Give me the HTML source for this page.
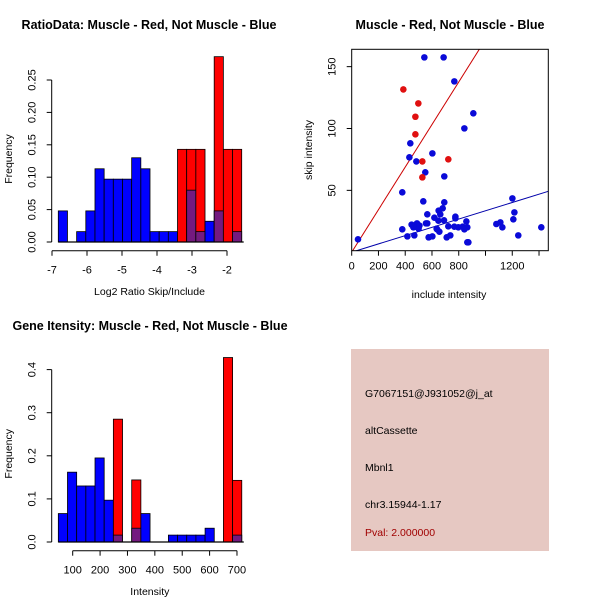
<!DOCTYPE html>
<html><head><meta charset="utf-8">
<style>
html,body{margin:0;padding:0;background:#fff;}
svg{display:block;font-family:"Liberation Sans",Arial,sans-serif;}
.t{font-weight:bold;font-size:12.5px;}
.lab{font-size:10.5px;}
.tk{font-size:11px;}
</style></head>
<body>
<svg id="root" width="600" height="600" viewBox="0 0 600 600" xmlns="http://www.w3.org/2000/svg">
<rect width="600" height="600" fill="#fff"/>
<g id="h1"></g>
<g id="h2"></g>
<g id="sc"></g>
<g>
<rect x="351" y="349" width="198" height="202" fill="#e6c8c2"/>
<text x="365" y="397" class="lab">G7067151@J931052@j_at</text>
<text x="365" y="434" class="lab">altCassette</text>
<text x="365" y="471" class="lab">Mbnl1</text>
<text x="365" y="508" class="lab">chr3.15944-1.17</text>
<text x="365" y="536" class="lab" fill="#a00000">Pval: 2.000000</text>
</g>
</svg>
<script>
// ---------- Histogram 1 data ----------
const h1Start = -6.82, h1Width = 0.262;
const h1Blue = [0.048,0,0.016,0.048,0.113,0.097,0.097,0.097,0.130,0.113,0.016,0.016,0.016,0,0.080,0.016,0.032,0.048,0,0.016];
const h1Red  = [0,0,0,0,0,0,0,0,0,0,0,0,0,0.143,0.143,0.143,0,0.286,0.143,0.143];
const h1XTicks = [-7,-6,-5,-4,-3,-2];
const h1YTicks = [0,0.05,0.10,0.15,0.20,0.25];
const h1YLabels = ["0.00","0.05","0.10","0.15","0.20","0.25"];
// ---------- Histogram 2 data ----------
const h2Start = 47.5, h2Width = 33.5;
const h2Blue = [0.066,0.162,0.130,0.130,0.195,0.097,0.016,0,0.032,0.066,0,0,0.016,0.016,0.016,0.016,0.032,0,0,0.016];
const h2Red  = [0,0,0,0,0,0,0.285,0,0.144,0,0,0,0,0,0,0,0,0,0.428,0.143];
const h2XTicks = [100,200,300,400,500,600,700];
const h2YTicks = [0,0.1,0.2,0.3,0.4];
const h2YLabels = ["0.0","0.1","0.2","0.3","0.4"];
// ---------- Scatter data ----------
const blueX = [543,687,767,909,842,438,603,431,483,550,692,378,535,692,1201,47,565,650,662,680,775,618,690,648,555,565,488,448,506,461,500,635,722,775,767,797,829,857,864,842,378,468,416,575,603,655,638,710,737,864,872,1081,1111,1126,1216,1208,1245,1417];
const blueY = [157.5,157.5,138.1,112.3,100.1,88.0,79.9,76.7,73.4,64.6,61.3,48.4,41.1,40.3,43.5,10.4,30.6,33.6,30.6,35.5,28.7,27.9,25.8,25.5,23.3,23.3,23.3,22.3,21.5,20.1,19.0,19.0,20.9,27.4,20.6,20.1,20.6,24.9,20.1,18.5,18.5,13.6,12.8,12.0,12.8,16.6,18.5,12.0,13.6,8.0,8.0,22.8,24.1,20.1,32.2,26.6,13.6,20.1];
const redX = [386,498,476,476,528,722,528];
const redY = [131.6,120.3,109.5,95.3,73.4,75.1,60.5];
const redSlope = 0.172, blueSlope = 0.0335;
const scXTicks = [0,200,400,600,800,1000,1200,1400];
const scXLabels = ["0","200","400","600","800","","1200",""];
const scYTicks = [50,100,150];

const NS="http://www.w3.org/2000/svg";
function mk(parent, tag, attrs){const e=document.createElementNS(NS,tag);for(const k in attrs)e.setAttribute(k,attrs[k]);parent.appendChild(e);return e;}

function hist(g, o){
  const sx=v=>o.x0+(v-o.v0)*o.kx, sy=v=>o.y0-v*o.ky;
  const n=o.red.length;
  for(let i=0;i<n;i++){
    const a=o.start+i*o.width, b=a+o.width;
    const x=sx(a), w=sx(b)-sx(a);
    if(o.red[i]>0){
      const r=mk(g,'rect',{x:x,y:sy(o.red[i]),width:w,height:sy(0)-sy(o.red[i]),fill:'#ff0000',stroke:'#000','stroke-width':0.8});
      
      
    }
    if(o.blue[i]>0){
      const col=o.red[i]>0?'#741a80':'#0000ff';
      const r=mk(g,'rect',{x:x,y:sy(o.blue[i]),width:w,height:sy(0)-sy(o.blue[i]),fill:col,stroke:'#000','stroke-width':0.8});
      
      
    }
  }
  const bl=mk(g,'line',{x1:sx(o.start),x2:sx(o.start+n*o.width)+2,y1:sy(0),y2:sy(0),stroke:'#000','stroke-width':1.2});
  
  
  const ax=o.y0+8.7;
  const xa=mk(g,'line',{x1:sx(o.xt[0]),x2:sx(o.xt[o.xt.length-1]),y1:ax,y2:ax,stroke:'#000'});
  
  
  o.xt.forEach(v=>{
    mk(g,'line',{x1:sx(v),x2:sx(v),y1:ax,y2:ax+5,stroke:'#000'});
    const t=mk(g,'text',{x:sx(v),y:ax+23,'text-anchor':'middle',class:'tk'});t.textContent=v;
    
    
  });
  const yx=o.yx;
  const ya=mk(g,'line',{x1:yx,x2:yx,y1:sy(o.yt[0]),y2:sy(o.yt[o.yt.length-1]),stroke:'#000'});
  
  
  o.yt.forEach((v,i)=>{
    mk(g,'line',{x1:yx,x2:yx-5,y1:sy(v),y2:sy(v),stroke:'#000'});
    const t=mk(g,'text',{x:0,y:0,'text-anchor':'middle',class:'tk',transform:`translate(${yx-16},${sy(v)}) rotate(-90)`});t.textContent=o.yl[i];
    
    
  });
  const xl=mk(g,'text',{x:(sx(o.xt[0])+sx(o.xt[o.xt.length-1]))/2+ (o.xlShift||0),y:o.y0+53,'text-anchor':'middle',class:'lab'});xl.textContent=o.xlabel;
  
  
  const yl=mk(g,'text',{x:0,y:0,'text-anchor':'middle',class:'lab',transform:`translate(12,${(o.y0+sy(o.yt[o.yt.length-1]))/2-2}) rotate(-90)`});yl.textContent='Frequency';
  
  
  const tt=mk(g,'text',{x:o.tx,y:o.ty,'text-anchor':'middle',class:'t'});tt.textContent=o.title;
  
  
}

hist(document.getElementById('h1'),{start:h1Start,width:h1Width,blue:h1Blue,red:h1Red,xt:h1XTicks,yt:h1YTicks,yl:h1YLabels,
  x0:52,v0:-7,kx:35,y0:242,ky:648,yx:51.7,xlabel:'Log2 Ratio Skip/Include',xlShift:10,title:'RatioData: Muscle - Red, Not Muscle - Blue',tx:149,ty:29});
hist(document.getElementById('h2'),{start:h2Start,width:h2Width,blue:h2Blue,red:h2Red,xt:h2XTicks,yt:h2YTicks,yl:h2YLabels,
  x0:72.7,v0:100,kx:0.2738,y0:542,ky:431,yx:51.7,xlabel:'Intensity',xlShift:-5,title:'Gene Itensity: Muscle - Red, Not Muscle - Blue',tx:150,ty:330});

(function(){
  const g=document.getElementById('sc');
  const X0=351.7,KX=0.1338,Y0=252.2,KY=1.237;
  const sx=v=>X0+v*KX, sy=v=>Y0-v*KY;
  const L=351.7,R=548.3,T=49.3,B=250.7;
  const cp=mk(g,'clipPath',{id:'clipS'});mk(cp,'rect',{x:L,y:T,width:R-L,height:B-T});
  const xmax=(R-X0)/KX;
  const rl=mk(g,'line',{x1:sx(0),y1:sy(0),x2:sx(xmax),y2:sy(redSlope*xmax),stroke:'#cc0000','stroke-width':1,'clip-path':'url(#clipS)'});
  
  
  const bl=mk(g,'line',{x1:sx(0),y1:sy(0),x2:sx(xmax),y2:sy(blueSlope*xmax),stroke:'#0000aa','stroke-width':1,'clip-path':'url(#clipS)'});
  
  
  blueX.forEach((v,i)=>{
    const c=mk(g,'circle',{cx:sx(v),cy:sy(blueY[i]),r:3.3,fill:'#0a0ad8'});
    
    
  });
  redX.forEach((v,i)=>{
    const c=mk(g,'circle',{cx:sx(v),cy:sy(redY[i]),r:3.3,fill:'#e01010'});
    
    
  });
  const box=mk(g,'rect',{x:L,y:T,width:R-L,height:B-T,fill:'none',stroke:'#000','stroke-width':1});
  
  
  scXTicks.forEach((v,i)=>{
    mk(g,'line',{x1:sx(v),x2:sx(v),y1:B,y2:B+5,stroke:'#000'});
    const t=mk(g,'text',{x:sx(v),y:B+19,'text-anchor':'middle',class:'tk'});t.textContent=scXLabels[i];
    
    
  });
  scYTicks.forEach(v=>{
    mk(g,'line',{x1:L,x2:L-5,y1:sy(v),y2:sy(v),stroke:'#000'});
    const t=mk(g,'text',{x:0,y:0,'text-anchor':'middle',class:'tk',transform:`translate(${L-16},${sy(v)}) rotate(-90)`});t.textContent=v;
    
    
  });
  const xl=mk(g,'text',{x:449,y:298,'text-anchor':'middle',class:'lab'});xl.textContent='include intensity';
  
  
  const yl=mk(g,'text',{x:0,y:0,'text-anchor':'middle',class:'lab',transform:'translate(312,150) rotate(-90)'});yl.textContent='skip intensity';
  
  
  const tt=mk(g,'text',{x:450,y:29,'text-anchor':'middle',class:'t'});tt.textContent='Muscle - Red, Not Muscle - Blue';
  
  
})();
</script>
</body></html>
